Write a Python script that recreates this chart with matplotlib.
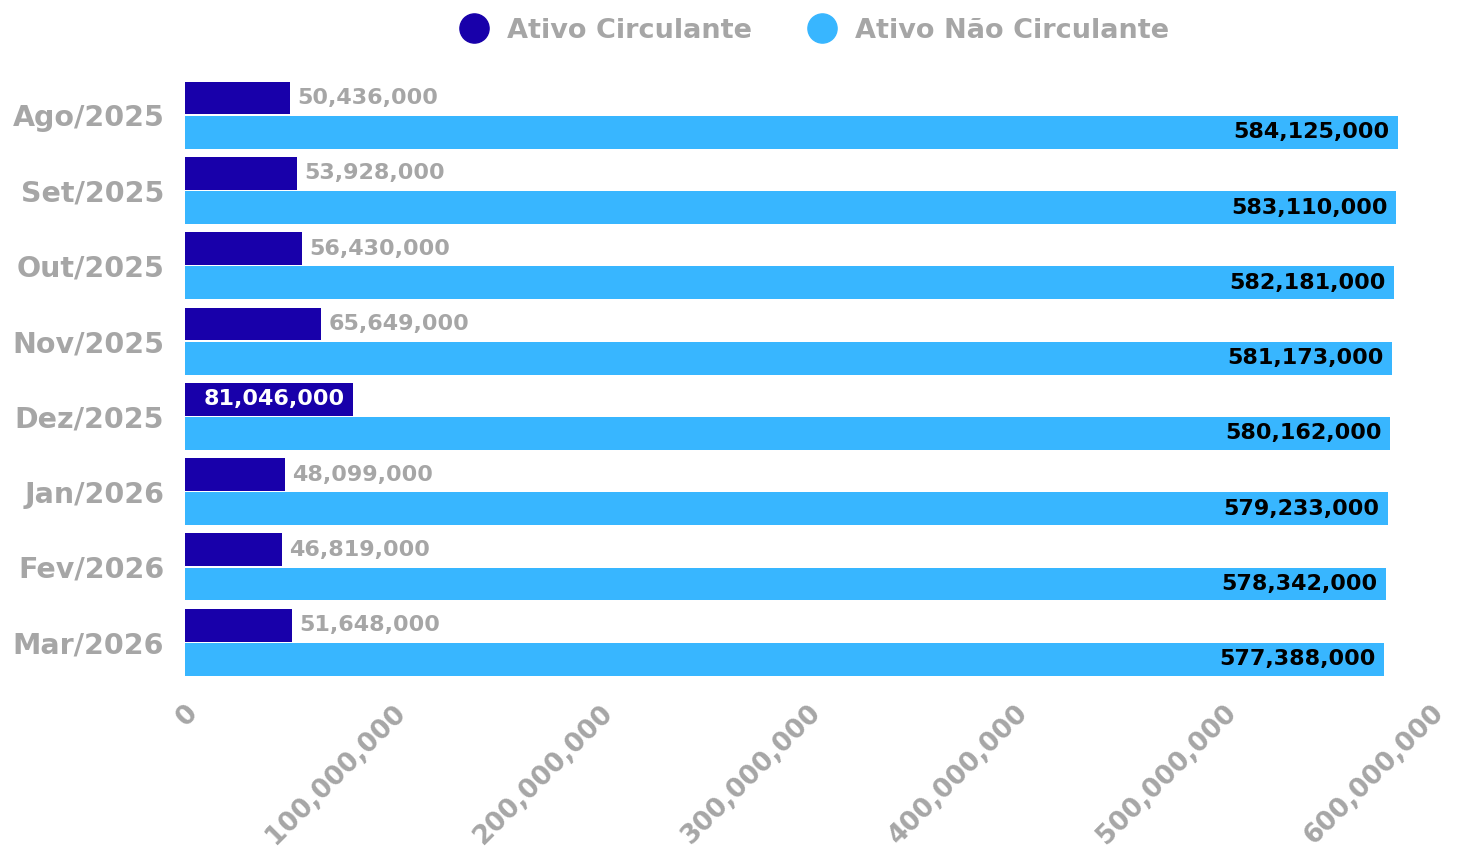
import matplotlib
matplotlib.use("Agg")
import matplotlib.pyplot as plt
from matplotlib.ticker import FuncFormatter
from matplotlib.lines import Line2D
import numpy as np

months = ["Ago/2025", "Set/2025", "Out/2025", "Nov/2025", "Dez/2025",
          "Jan/2026", "Fev/2026", "Mar/2026"]
circulante = [50436000, 53928000, 56430000, 65649000, 81046000,
              48099000, 46819000, 51648000]
nao_circulante = [584125000, 583110000, 582181000, 581173000, 580162000,
                  579233000, 578342000, 577388000]

dark = "#1800aa"
light = "#38b6ff"
grey = "#a6a6a6"
plt.rcParams['font.family'] = ['DejaVu Sans']
plt.rcParams['font.weight'] = 'bold'

fig = plt.figure(figsize=(14.63, 8.51), dpi=100)
ax = fig.add_axes([0.1265, 0.201, 0.8515, 0.708])

y = np.arange(len(months))
h = 0.435
b1 = ax.barh(y - h / 2 - 0.01, circulante, height=h, color=dark)
b2 = ax.barh(y + h / 2 + 0.01, nao_circulante, height=h, color=light)

ax.set_xlim(0, 600000000)
ax.set_ylim(len(months) - 0.5, -0.5)
ax.set_yticks(y)
ax.set_yticklabels(months, fontsize=20.5, color=grey, fontweight='bold')
ax.set_xticks(np.arange(0, 600000001, 100000000))
ax.xaxis.set_major_formatter(FuncFormatter(lambda v, p: f"{int(v):,}"))
plt.setp(ax.get_xticklabels(), rotation=45, ha='right', rotation_mode='anchor',
         fontsize=19, color=grey, fontweight='bold')
ax.tick_params(axis='y', length=0, pad=15)
ax.tick_params(axis='x', length=0, pad=14)
for s in ax.spines.values():
    s.set_visible(False)

top = max(circulante)
for rect, v in zip(b1, circulante):
    cy = rect.get_y() + rect.get_height() / 2
    if v == top:
        ax.text(v - 4e6, cy, f"{v:,}", ha='right', va='center',
                color='white', fontsize=16, fontweight='bold')
    else:
        ax.text(v + 3.5e6, cy, f"{v:,}", ha='left', va='center',
                color=grey, fontsize=16, fontweight='bold')
for rect, v in zip(b2, nao_circulante):
    cy = rect.get_y() + rect.get_height() / 2
    ax.text(v - 4e6, cy, f"{v:,}", ha='right', va='center',
            color='black', fontsize=16, fontweight='bold')

handles = [Line2D([], [], marker='o', ls='', color=dark, markersize=21),
           Line2D([], [], marker='o', ls='', color=light, markersize=21)]
leg = ax.legend(handles, ["Ativo Circulante", "Ativo Não Circulante"],
                loc='lower center', bbox_to_anchor=(0.5, 1.038), ncol=2,
                frameon=False, fontsize=19.5, handletextpad=0.2,
                columnspacing=1.6, borderaxespad=0)
for t in leg.get_texts():
    t.set_color(grey)
    t.set_fontweight('bold')

fig.savefig("out.png", dpi=100)
